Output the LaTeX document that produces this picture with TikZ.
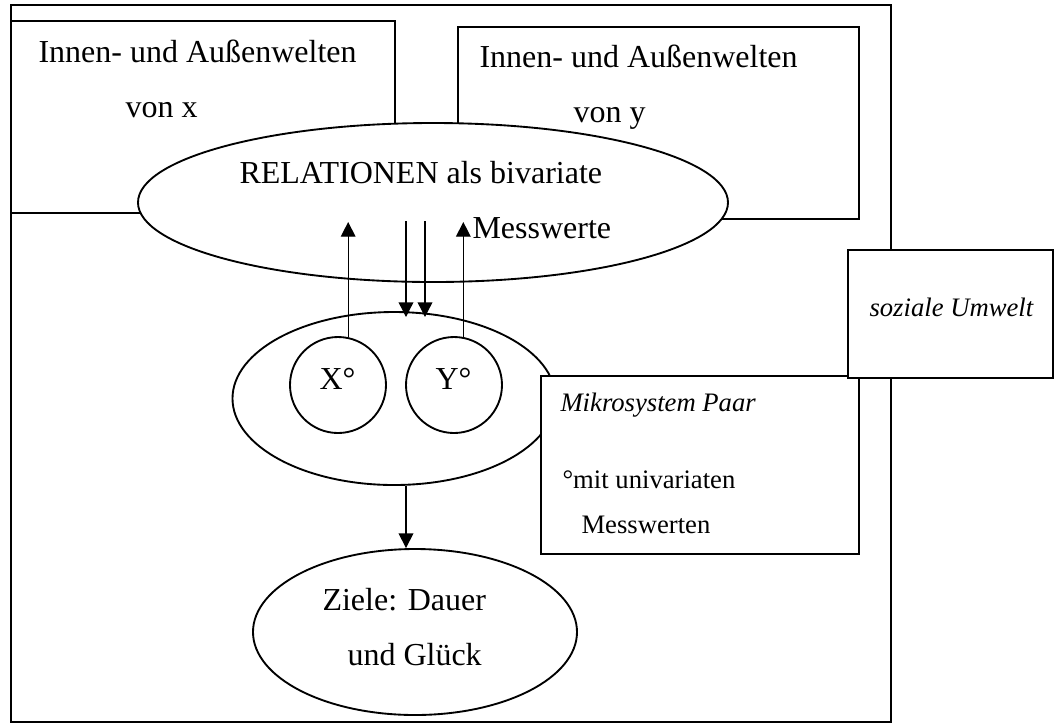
\documentclass[tikz,border=0pt]{standalone}
\usepackage{fontspec}
\setmainfont{Liberation Serif}
\usetikzlibrary{shapes.geometric,arrows.meta}
\newcommand\pxl{0.375pt}
\tikzset{
  kasten/.style={draw,fill=white,line width=0.75pt,rectangle,inner sep=0pt},
  blase/.style={draw,fill=white,line width=0.7pt,ellipse,inner sep=0pt},
  kreis/.style={draw,fill=white,line width=0.7pt,circle,inner sep=0pt,minimum size=96*\pxl},
  pfeil/.style={line width=0.5pt,-{Triangle[length=5.5pt,width=5.5pt]}},
  txt/.style={anchor=base west,inner sep=0pt,font=\fontsize{12}{14}\selectfont},
  ktxt/.style={anchor=base west,inner sep=0pt,font=\fontsize{10}{12}\selectfont},
}
\begin{document}
\begin{tikzpicture}[x=\pxl,y=-\pxl]
  \useasboundingbox (0,0) rectangle (1055,724);
  % Rahmen
  \node[kasten,fill=none,minimum width=880*\pxl,minimum height=717*\pxl] (rahmen) at (451,363.5) {};
  \node[kasten,minimum width=384*\pxl,minimum height=192*\pxl] (weltx) at (203,117) {};
  \node[kasten,minimum width=401*\pxl,minimum height=192*\pxl] (welty) at (658.5,123) {};
  \node[blase,minimum width=590*\pxl,minimum height=159*\pxl] (rel) at (433,202.5) {};
  \node[blase,minimum width=323*\pxl,minimum height=173*\pxl] (mikro) at (394,398.5) {};
  \node[kreis] (kx) at (338,385) {};
  \node[kreis] (ky) at (454,385) {};
  \node[kasten,minimum width=318*\pxl,minimum height=178*\pxl] (paar) at (700,465) {};
  \node[kasten,minimum width=205*\pxl,minimum height=128*\pxl] (umwelt) at (950.5,314) {};
  \node[blase,minimum width=324*\pxl,minimum height=166*\pxl] (ziel) at (415,632) {};
  % Texte
  \node[txt] (tx1) at (38,62) {Innen- und Außenwelten};
  \node[txt] (tx2) at (125,117) {von x};
  \node[txt] (ty1) at (479,67) {Innen- und Außenwelten};
  \node[txt] (ty2) at (573,122) {von y};
  \node[txt] (trel1) at (239,183) {RELATIONEN als bivariate};
  \node[txt] (trel2) at (472,238) {Messwerte};
  \node[txt] (tkx) at (319,389) {X°};
  \node[txt] (tky) at (435,389) {Y°};
  \node[ktxt,font=\fontsize{10}{12}\selectfont\itshape] (tumwelt) at (869,316) {soziale Umwelt};
  \node[ktxt,font=\fontsize{10}{12}\selectfont\itshape] (tpaar1) at (560,411) {Mikrosystem Paar};
  \node[ktxt] (tpaar2) at (562,488) {°mit univariaten};
  \node[ktxt] (tpaar3) at (581,533) {Messwerten};
  \node[txt] (tziel1) at (322,610) {Ziele: Dauer};
  \node[txt] (tziel2) at (347,665) {und Glück};
  % Pfeile
  \coordinate (oben) at (0,222);
  \coordinate (runter1) at (406,221);
  \coordinate (runter2) at (425,221);
  \coordinate (unten) at (0,317);
  \draw[pfeil] (kx.78) -- (kx.78 |- oben);
  \draw[pfeil] (ky.79) -- (ky.79 |- oben);
  \draw[pfeil] (runter1) -- (runter1 |- unten);
  \draw[pfeil] (runter2) -- (runter2 |- unten);
  \draw[pfeil] (mikro.south -| runter1) -- (ziel.north -| runter1);
\end{tikzpicture}
\end{document}
